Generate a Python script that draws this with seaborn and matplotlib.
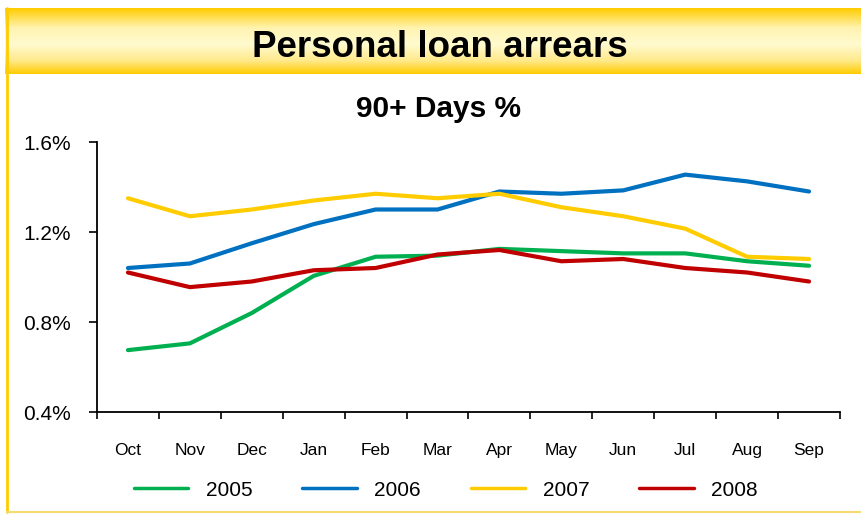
import numpy as np
import pandas as pd
import matplotlib.pyplot as plt
import matplotlib.colors as mcolors
from matplotlib.ticker import FuncFormatter, FixedLocator
import seaborn as sns

# --- data (90+ days arrears, %) ---
months = ['Oct', 'Nov', 'Dec', 'Jan', 'Feb', 'Mar', 'Apr', 'May', 'Jun', 'Jul', 'Aug', 'Sep']
years = ['2005', '2006', '2007', '2008']
y2005 = [0.675, 0.705, 0.84, 1.005, 1.09, 1.095, 1.125, 1.115, 1.105, 1.105, 1.07, 1.05]
y2006 = [1.04, 1.06, 1.15, 1.235, 1.30, 1.30, 1.38, 1.37, 1.385, 1.455, 1.425, 1.38]
y2007 = [1.35, 1.27, 1.30, 1.34, 1.37, 1.35, 1.37, 1.31, 1.27, 1.215, 1.09, 1.08]
y2008 = [1.02, 0.955, 0.98, 1.03, 1.04, 1.10, 1.12, 1.07, 1.08, 1.04, 1.02, 0.98]
y_ticks = [0.4, 0.8, 1.2, 1.6]

colors = {'2005': '#00B050', '2006': '#0070C0', '2007': '#FFCC00', '2008': '#C00000'}

df = pd.DataFrame({
    'Month': months * 4,
    'Year': np.repeat(years, len(months)),
    'Rate': y2005 + y2006 + y2007 + y2008,
})

sns.set_theme(style="ticks")
plt.rcParams['font.family'] = ['Liberation Sans', 'DejaVu Sans']
plt.rcParams['text.color'] = 'black'

W, H = 861, 514
fig = plt.figure(figsize=(W / 100, H / 100), dpi=100)
fig.patch.set_facecolor('white')

# --- title banner with vertical gold gradient ---
banner = fig.add_axes([5 / W, 1 - 74 / H, 1 - 5 / W, 66 / H])
cmap = mcolors.LinearSegmentedColormap.from_list(
    'band', [(0.0, '#FFCC00'), (0.3, '#FFF3B0'), (0.55, '#FFFBD0'), (0.8, '#FFE98A'), (1.0, '#FFCC00')])
grad = np.linspace(0, 1, 200).reshape(-1, 1)
banner.imshow(grad, aspect='auto', cmap=cmap, extent=[0, 1, 0, 1], origin='upper')
banner.set_axis_off()
fig.text(440 / W, 1 - 57 / H, 'Personal loan arrears', ha='center', va='baseline',
         fontsize=26.5, fontweight='bold', color='black')

# frame lines on the left and bottom of the slide
fig.add_artist(plt.Line2D([7 / W, 7 / W], [1 - 512 / H, 1 - 8 / H], color='#FFCC00', lw=2,
                          transform=fig.transFigure))
fig.add_artist(plt.Line2D([7 / W, 1], [1 - 512 / H, 1 - 512 / H], color='#F5DA70', lw=1.5,
                          transform=fig.transFigure))

fig.text(438 / W, 1 - 117 / H, '90+ Days %', ha='center', va='baseline',
         fontsize=21.5, fontweight='bold', color='black')

# --- main chart ---
ax = fig.add_axes([97 / W, 1 - 412 / H, (840 - 97) / W, (412 - 142) / H])
sns.lineplot(data=df, x='Month', y='Rate', hue='Year', palette=colors,
             linewidth=3, sort=False, ax=ax)

ax.set_xlim(-0.5, len(months) - 0.5)
ax.set_ylim(0.4, 1.6)
ax.set_yticks(y_ticks)
ax.yaxis.set_major_formatter(FuncFormatter(lambda v, p: f'{v:.1f}%'))
ax.set_xlabel('')
ax.set_ylabel('')

ax.xaxis.set_minor_locator(FixedLocator(np.arange(-0.5, len(months), 1.0)))
ax.tick_params(axis='x', which='major', length=0, pad=22, labelsize=12.5,
               colors='black', labelcolor='black')
ax.tick_params(axis='x', which='minor', length=5, width=1.2, direction='out', color='black')
ax.tick_params(axis='y', which='major', length=6, width=1.2, pad=13, labelsize=15,
               colors='black', labelcolor='black')

for side in ['top', 'right']:
    ax.spines[side].set_visible(False)
for side in ['left', 'bottom']:
    ax.spines[side].set_linewidth(1.3)
    ax.spines[side].set_color('black')

handles, labels = ax.get_legend_handles_labels()
ax.get_legend().remove()
leg = fig.legend(handles, labels, loc='center', bbox_to_anchor=(446 / W, 1 - 490 / H),
                 ncol=4, frameon=False, fontsize=15, handlelength=2.6,
                 handletextpad=0.85, columnspacing=2.4)
for text in leg.get_texts():
    text.set_color('black')
for line in leg.get_lines():
    line.set_linewidth(2.5)

fig.savefig('out.png', dpi=100)
